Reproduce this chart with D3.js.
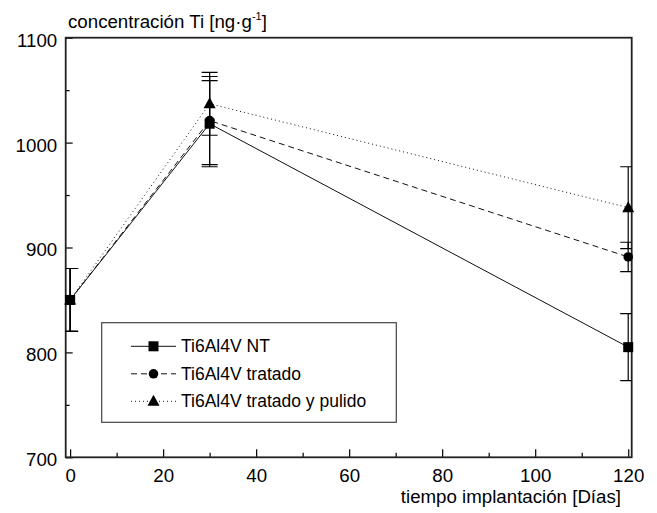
<!DOCTYPE html>
<html><head><meta charset="utf-8">
<script src="https://cdn.jsdelivr.net/npm/d3@7"></script>
<style>body{margin:0;background:#fff}svg{display:block}text{font-family:"Liberation Sans",Arial,sans-serif;fill:#000}</style>
</head><body><svg id="c" width="657" height="513"></svg>
<script>
const days = [0, 30, 120];
const seriesNames = ["Ti6Al4V NT", "Ti6Al4V tratado", "Ti6Al4V tratado y pulido"];
const ntValues = [850, 1018, 805];
const ntErrors = [30, 41, 32];
const tratadoValues = [850, 1021, 891];
const tratadoErrors = [30, 42, 14];
const pulidoValues = [850, 1037, 938];
const pulidoErrors = [30, 30, 39];
const xTicks = [0, 20, 40, 60, 80, 100, 120];
const yTicks = [700, 800, 900, 1000, 1100];
const yTitle = "concentración Ti [ng·g";
const xTitle = "tiempo implantación [Días]";

const series = [
  {name: seriesNames[0], v: ntValues, e: ntErrors, dash: null, sym: "square"},
  {name: seriesNames[1], v: tratadoValues, e: tratadoErrors, dash: "6,4", sym: "circle"},
  {name: seriesNames[2], v: pulidoValues, e: pulidoErrors, dash: "1,3", sym: "triangle"}
];

const svg = d3.select("#c");
const L = 65.7, R = 631.7, T = 37.7, B = 457.3;
const x = d3.scaleLinear().domain([-0.95, 120.75]).range([L, R]);
const y = d3.scaleLinear().domain([700, 1100]).range([B, T]);

svg.append("defs").append("clipPath").attr("id","clip")
  .append("rect").attr("x",L).attr("y",T).attr("width",R-L).attr("height",B-T);

// axes with inward ticks
const xAxis = d3.axisBottom(x).tickValues(d3.range(0,121,10)).tickSize(-8).tickFormat(d => xTicks.includes(d) ? d : "");
const gx = svg.append("g").attr("transform",`translate(0,${B})`).call(xAxis);
gx.selectAll(".tick line").attr("y2", d => xTicks.includes(d) ? -8 : -4.5).attr("stroke","#000").attr("stroke-width",1.2);
gx.selectAll(".tick text").attr("y",11).attr("font-size","18.7px").attr("font-family","Liberation Sans, Arial, sans-serif");
gx.select(".domain").remove();

const yAxis = d3.axisLeft(y).tickValues(d3.range(700,1101,50)).tickSize(-7).tickFormat(d => yTicks.includes(d) ? d : "");
const gy = svg.append("g").attr("transform",`translate(${L},0)`).call(yAxis);
gy.selectAll(".tick line").attr("x2", d => yTicks.includes(d) ? 7 : 4).attr("stroke","#000").attr("stroke-width",1.2);
gy.selectAll(".tick text").attr("x",-8.5).attr("dy","0.45em").attr("font-size","18.7px").attr("font-family","Liberation Sans, Arial, sans-serif");
gy.select(".domain").remove();

// frame
svg.append("rect").attr("x",L).attr("y",T).attr("width",R-L).attr("height",B-T)
  .attr("fill","none").attr("stroke","#222").attr("stroke-width",1.8);

const plot = svg.append("g").attr("clip-path","url(#clip)");
const line = d3.line().x((d,i)=>x(days[i])).y(d=>y(d));

function marker(g, sym, cx, cy) {
  if (sym === "square") g.append("rect").attr("x",cx-5).attr("y",cy-5).attr("width",10).attr("height",10).attr("fill","#000");
  else if (sym === "circle") g.append("circle").attr("cx",cx).attr("cy",cy).attr("r",4.8).attr("fill","#000");
  else g.append("path").attr("d",`M${cx},${cy-6.5}L${cx+6},${cy+4.5}L${cx-6},${cy+4.5}Z`).attr("fill","#000");
}

const mg = svg.append("g");
series.slice().reverse().forEach(s => {
  plot.append("path").datum(s.v).attr("d",line).attr("fill","none").attr("stroke","#111")
    .attr("stroke-width",1).attr("stroke-dasharray",s.dash);
  s.v.forEach((v,i) => {
    const cx = x(days[i]);
    const g = plot.append("g").attr("stroke","#000").attr("stroke-width",1.2);
    g.append("line").attr("x1",cx).attr("x2",cx).attr("y1",y(v-s.e[i])).attr("y2",y(v+s.e[i]));
    [v-s.e[i], v+s.e[i]].forEach(w => g.append("line").attr("x1",cx-8).attr("x2",cx+8).attr("y1",y(w)).attr("y2",y(w)));
  });
});
series.slice().reverse().forEach(s => {
  s.v.forEach((v,i) => marker(mg, s.sym, x(days[i]), y(v)));
});

// titles
const yt = svg.append("text").attr("x",68).attr("y",28).attr("font-size","18.7px");
yt.append("tspan").text(yTitle);
yt.append("tspan").attr("font-size","11px").attr("dy","-8").text("-1");
yt.append("tspan").attr("dy","8").text("]");
svg.append("text").attr("x",621).attr("y",503).attr("text-anchor","end").attr("font-size","18.7px").text(xTitle);

// legend
const lg = svg.append("g");
lg.append("rect").attr("x",101.7).attr("y",322.7).attr("width",294.6).attr("height",99.6)
  .attr("fill","#fff").attr("stroke","#444").attr("stroke-width",1.2);
series.forEach((s,i) => {
  const by = 352.3 + i*27.5;
  const cy = by - 6;
  lg.append("line").attr("x1",131).attr("x2",176).attr("y1",cy).attr("y2",cy)
    .attr("stroke","#111").attr("stroke-width",1).attr("stroke-dasharray",s.dash);
  marker(lg, s.sym, 153.5, cy);
  lg.append("text").attr("x",181).attr("y",by).attr("font-size","17.5px").text(s.name);
});
</script></body></html>
